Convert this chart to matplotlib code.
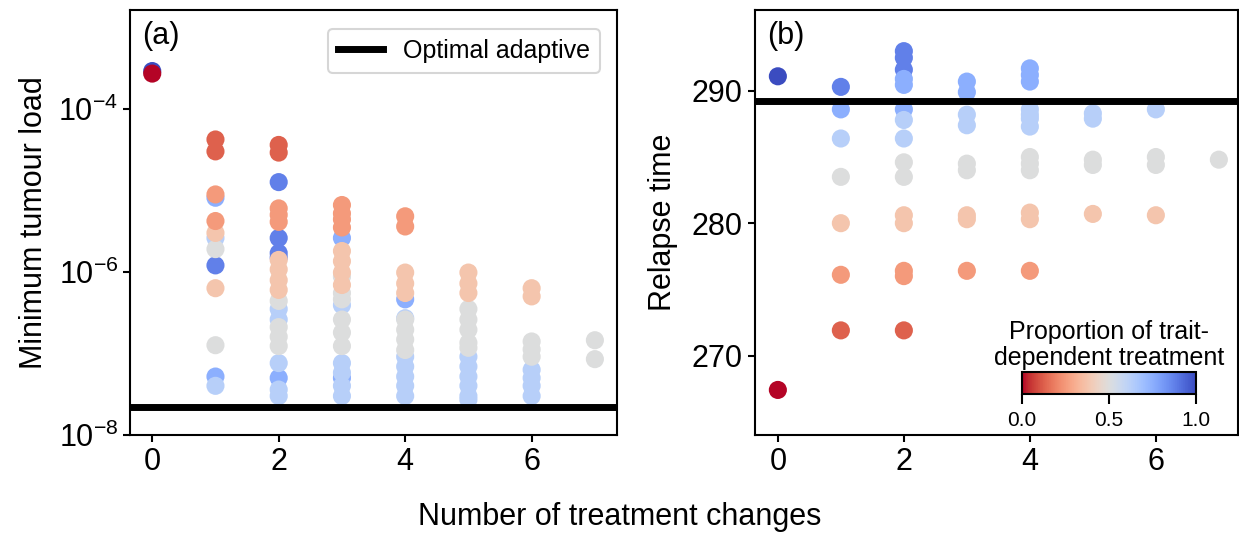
import numpy as np
import matplotlib
matplotlib.use('Agg')
import matplotlib.pyplot as plt
from matplotlib.ticker import FixedLocator, NullLocator

plt.rcParams['font.family'] = ['Liberation Sans', 'DejaVu Sans']
plt.rcParams['axes.linewidth'] = 1.5

# panel (a): number of treatment changes, minimum tumour load, proportion trait-dependent
# one line per column of points
a_changes = [0, 0,
             1, 1, 1, 1, 1, 1, 1, 1, 1, 1, 1, 1, 1,
             2, 2, 2, 2, 2, 2, 2, 2, 2, 2, 2, 2, 2, 2, 2, 2, 2, 2, 2, 2, 2, 2, 2,
             3, 3, 3, 3, 3, 3, 3, 3, 3, 3, 3, 3, 3, 3, 3, 3, 3, 3, 3, 3, 3,
             4, 4, 4, 4, 4, 4, 4, 4, 4, 4, 4, 4, 4, 4, 4, 4,
             5, 5, 5, 5, 5, 5, 5, 5, 5, 5, 5, 5, 5, 5,
             6, 6, 6, 6, 6, 6, 6, 6, 6,
             7, 7]
a_load = [2.9e-4, 2.7e-4,
          4.2e-5, 3.0e-5, 8.1e-6, 8.9e-6, 4.2e-6, 2.6e-6, 3.0e-6, 1.9e-6, 1.2e-6, 6.3e-7, 1.26e-7, 5.2e-8, 4.0e-8,
          3.6e-5, 2.9e-5, 1.26e-5, 6.0e-6, 5.0e-6, 4.1e-6, 2.6e-6, 1.7e-6, 1.5e-6, 1.4e-6, 1.07e-6, 7.9e-7, 6.0e-7, 4.4e-7, 3.5e-7, 2.6e-7, 2.1e-7, 1.6e-7, 1.23e-7, 7.6e-8, 5.0e-8, 3.6e-8, 3.0e-8,
          6.6e-6, 5.2e-6, 4.4e-6, 3.5e-6, 2.6e-6, 1.8e-6, 1.35e-6, 9.8e-7, 6.9e-7, 8.7e-7, 5.5e-7, 4.6e-7, 3.9e-7, 2.6e-7, 1.8e-7, 1.23e-7, 7.6e-8, 5.8e-8, 4.0e-8, 3.0e-8, 5.0e-8,
          4.8e-6, 3.6e-6, 4.6e-7, 2.7e-7, 9.8e-7, 7.2e-7, 5.5e-7, 2.6e-7, 1.95e-7, 1.48e-7, 1.1e-7, 9.1e-8, 6.9e-8, 5.2e-8, 4.0e-8, 3.0e-8,
          9.8e-7, 7.2e-7, 5.5e-7, 3.5e-7, 2.6e-7, 1.95e-7, 1.35e-7, 1.17e-7, 9.1e-8, 6.9e-8, 5.2e-8, 4.0e-8, 3.0e-8, 2.7e-8,
          6.3e-7, 5.0e-7, 1.4e-7, 1.12e-7, 9.1e-8, 6.3e-8, 5.0e-8, 4.0e-8, 3.0e-8,
          1.45e-7, 8.5e-8]
a_prop = [1.0, 0.0,
          0.125, 0.125, 0.75, 0.25, 0.25, 0.625, 0.375, 0.5, 0.875, 0.375, 0.5, 0.75, 0.625,
          0.125, 0.125, 0.875, 0.25, 0.25, 0.25, 0.875, 0.875, 0.875, 0.375, 0.375, 0.375, 0.375, 0.5, 0.625, 0.625, 0.5, 0.5, 0.5, 0.625, 0.75, 0.625, 0.625,
          0.25, 0.25, 0.25, 0.25, 0.75, 0.375, 0.375, 0.375, 0.375, 0.5, 0.5, 0.5, 0.625, 0.5, 0.5, 0.5, 0.625, 0.625, 0.625, 0.625, 0.75,
          0.25, 0.25, 0.75, 0.625, 0.375, 0.375, 0.375, 0.5, 0.5, 0.5, 0.5, 0.625, 0.625, 0.625, 0.625, 0.625,
          0.375, 0.375, 0.375, 0.5, 0.5, 0.5, 0.5, 0.5, 0.625, 0.625, 0.625, 0.625, 0.625, 0.625,
          0.375, 0.375, 0.5, 0.5, 0.5, 0.625, 0.625, 0.625, 0.625,
          0.5, 0.5]
a_optimal = 2.2e-8

# panel (b): relapse time
b_changes = [0, 0,
             1, 1, 1, 1, 1, 1, 1,
             2, 2, 2, 2, 2, 2, 2, 2, 2, 2, 2, 2, 2, 2, 2,
             3, 3, 3, 3, 3, 3, 3, 3, 3,
             4, 4, 4, 4, 4, 4, 4, 4, 4, 4, 4, 4, 4,
             5, 5, 5, 5, 5,
             6, 6, 6, 6,
             7]
b_relapse = [291.1, 267.4,
             290.3, 288.6, 286.4, 283.5, 280.0, 276.1, 271.9,
             293.0, 292.5, 291.6, 290.9, 290.45, 288.6, 287.8, 286.4, 284.6, 283.5, 280.6, 280.0, 276.4, 276.0, 271.9,
             290.7, 289.9, 288.2, 287.4, 284.5, 284.0, 280.6, 280.3, 276.4,
             291.7, 291.2, 290.7, 288.6, 288.2, 287.9, 287.3, 285.0, 284.5, 284.0, 280.8, 280.3, 276.4,
             288.3, 287.9, 284.8, 284.4, 280.7,
             288.6, 285.0, 284.4, 280.6,
             284.8]
b_prop = [1.0, 0.0,
          0.875, 0.75, 0.625, 0.5, 0.375, 0.25, 0.125,
          0.875, 0.875, 0.875, 0.75, 0.75, 0.75, 0.625, 0.625, 0.5, 0.5, 0.375, 0.375, 0.25, 0.25, 0.125,
          0.75, 0.75, 0.625, 0.625, 0.5, 0.5, 0.375, 0.375, 0.25,
          0.75, 0.75, 0.75, 0.625, 0.625, 0.625, 0.625, 0.5, 0.5, 0.5, 0.375, 0.375, 0.25,
          0.625, 0.625, 0.5, 0.5, 0.375,
          0.625, 0.5, 0.5, 0.375,
          0.5]
b_optimal = 289.25

cmap = 'coolwarm_r'
msize = 170

fig = plt.figure(figsize=(12.39, 5.33), dpi=100)
ax_a = fig.add_axes([0.105, 0.184, 0.393, 0.797])
ax_b = fig.add_axes([0.609, 0.184, 0.390, 0.797])


def draw_points(ax, x, y, p):
    x, y, p = np.array(x), np.array(y), np.array(p)
    # bluer points underneath
    order = np.argsort(-p, kind='stable')
    return ax.scatter(x[order], y[order], c=p[order], cmap=cmap, vmin=0, vmax=1,
                      s=msize, edgecolors='none', zorder=2)


draw_points(ax_a, a_changes, a_load, a_prop)
ax_a.axhline(a_optimal, color='black', lw=5, zorder=3, label='Optimal adaptive')
ax_a.set_yscale('log')
ax_a.set_ylim(1e-8, 1.62e-3)
ax_a.set_xlim(-0.35, 7.35)
ax_a.yaxis.set_major_locator(FixedLocator([1e-8, 1e-6, 1e-4]))
ax_a.yaxis.set_minor_locator(NullLocator())
ax_a.set_ylabel('Minimum tumour load', fontsize=22, labelpad=7)
ax_a.text(0.025, 0.975, '(a)', transform=ax_a.transAxes, fontsize=22, va='top', ha='left')
leg = ax_a.legend(loc='upper right', fontsize=18, handlelength=1.8, fancybox=True,
                  borderpad=0.4, bbox_to_anchor=(0.99, 0.985))
leg.get_frame().set_linewidth(1.5)

sc = draw_points(ax_b, b_changes, b_relapse, b_prop)
ax_b.axhline(b_optimal, color='black', lw=5, zorder=3)
ax_b.set_ylim(264.0, 296.1)
ax_b.set_xlim(-0.37, 7.3)
ax_b.set_yticks([270, 280, 290])
ax_b.set_ylabel('Relapse time', fontsize=22, labelpad=10)
ax_b.text(0.025, 0.975, '(b)', transform=ax_b.transAxes, fontsize=22, va='top', ha='left')

for ax in (ax_a, ax_b):
    ax.set_xticks([0, 2, 4, 6])
    ax.tick_params(labelsize=22, length=5, width=1.5)

cax = fig.add_axes([0.825, 0.261, 0.140, 0.041])
cb = fig.colorbar(sc, cax=cax, orientation='horizontal', ticks=[0, 0.5, 1.0])
cb.ax.set_xticklabels(['0.0', '0.5', '1.0'])
cb.ax.tick_params(labelsize=15, length=7, width=1.5, pad=5)
cb.outline.set_linewidth(1.5)
cax.set_title('Proportion of trait-\ndependent treatment', fontsize=18, pad=5, linespacing=1.1)

fig.text(0.5, 0.03, 'Number of treatment changes', fontsize=22, ha='center', va='center')

fig.savefig('out.png', dpi=100)
